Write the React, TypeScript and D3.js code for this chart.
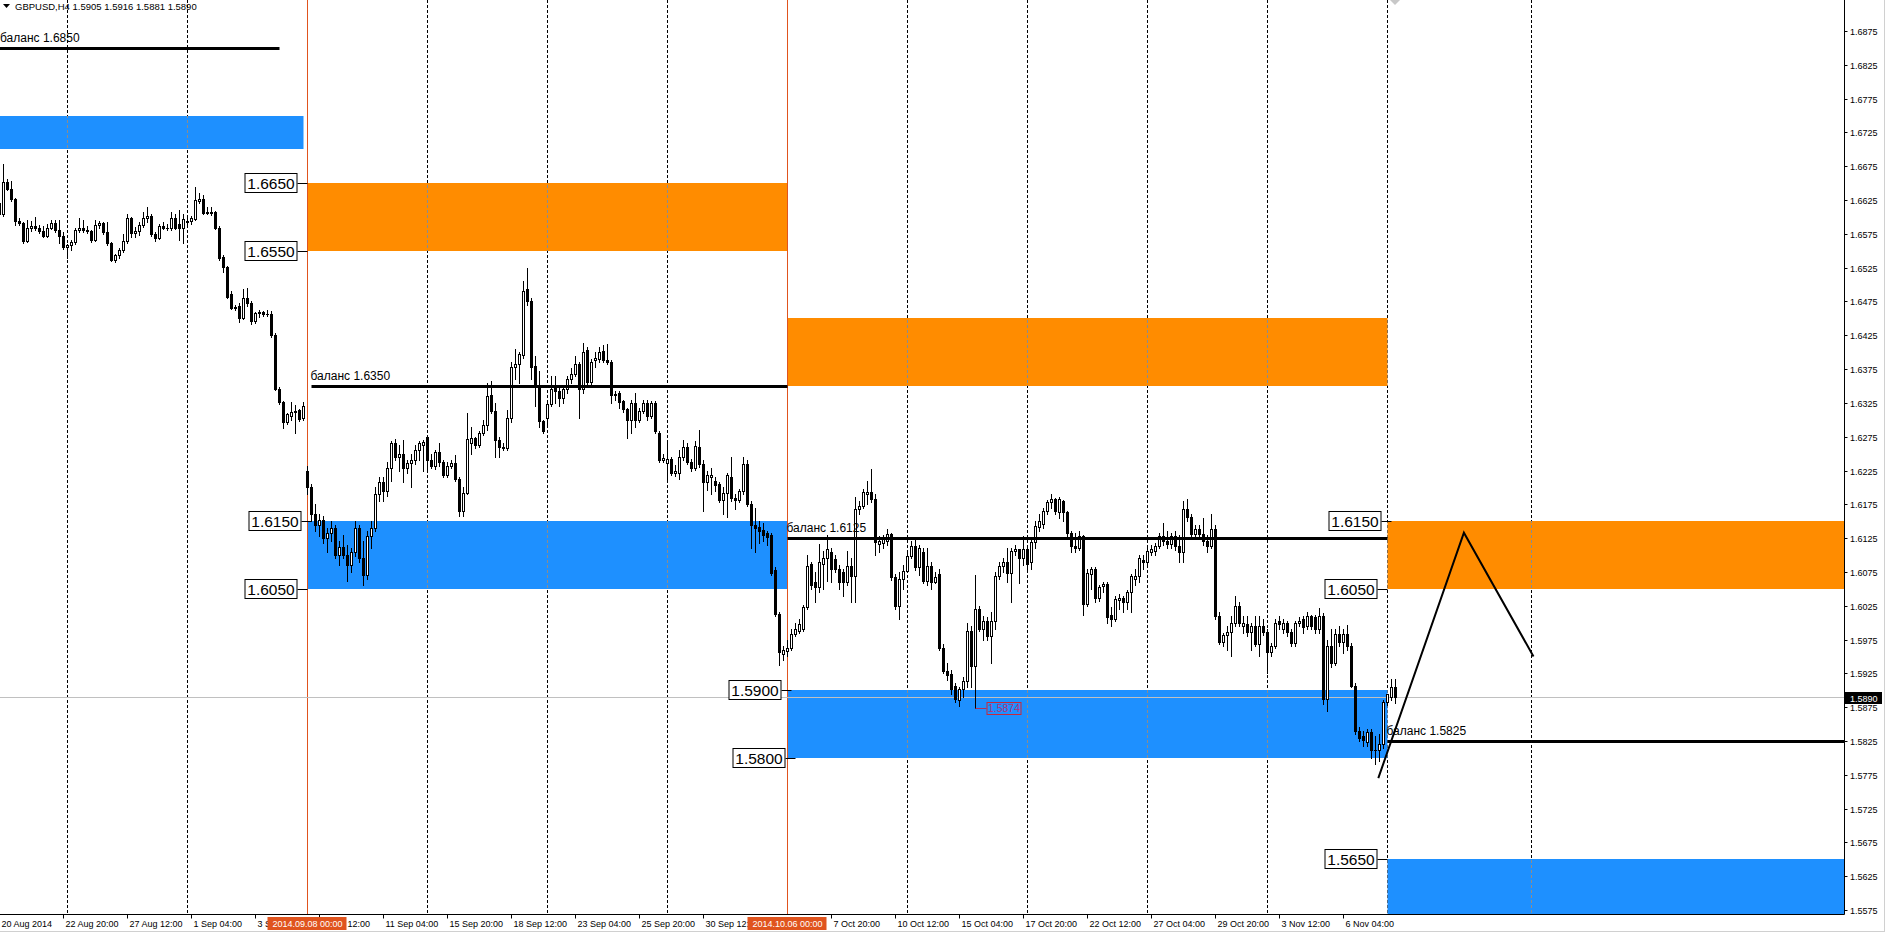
import React from 'react';
import * as d3 from 'd3';

// prices are stored ×10000 (e.g. 16604 = 1.6604); [open, high, low, close]
type Bar = [number, number, number, number];

// 20 Aug 04:00 – 22 Aug 20:00
const week34: Bar[] = [
  [16620,16630,16600,16604],[16604,16678,16601,16652],[16652,16656,16640,16642],[16642,16653,16624,16626],
  [16626,16628,16588,16594],[16594,16598,16588,16591],[16591,16593,16561,16565],[16565,16596,16563,16584],
  [16584,16594,16579,16587],[16587,16600,16580,16584],[16584,16588,16576,16579],[16579,16586,16570,16572],
  [16572,16590,16570,16584],[16584,16596,16582,16591],[16591,16596,16578,16581],[16581,16595,16562,16572],
  [16572,16578,16552,16555],
];
// 25 Aug – 29 Aug
const week35: Bar[] = [
  [16555,16560,16540,16558],[16558,16566,16551,16563],[16563,16584,16560,16581],[16581,16598,16578,16583],
  [16583,16595,16578,16580],[16580,16586,16576,16579],[16579,16581,16563,16566],[16566,16595,16564,16588],
  [16588,16594,16584,16591],[16591,16593,16575,16577],[16577,16592,16558,16561],[16561,16563,16535,16537],
  [16537,16545,16534,16543],[16543,16554,16540,16551],[16551,16575,16548,16564],[16564,16605,16562,16598],
  [16598,16600,16570,16576],[16576,16585,16570,16579],[16579,16592,16573,16588],[16588,16608,16585,16598],
  [16598,16614,16592,16601],[16601,16605,16572,16575],[16575,16578,16565,16569],[16569,16590,16567,16586],
  [16586,16592,16582,16584],[16584,16590,16580,16583],[16583,16608,16581,16598],[16598,16605,16582,16584],
  [16590,16610,16566,16584],[16584,16604,16561,16597],
];
// 1 Sep – 5 Sep
const week36: Bar[] = [
  [16593,16600,16588,16594],[16594,16601,16590,16598],[16597,16644,16595,16625],[16624,16635,16620,16626],
  [16626,16633,16604,16606],[16607,16614,16604,16606],[16606,16615,16603,16607],[16607,16609,16582,16584],
  [16584,16586,16537,16539],[16541,16543,16518,16526],[16526,16528,16480,16482],[16486,16490,16464,16466],
  [16467,16470,16462,16465],[16468,16472,16444,16451],[16451,16494,16449,16480],[16480,16495,16468,16472],
  [16472,16476,16442,16446],[16446,16460,16443,16458],[16458,16462,16452,16460],[16460,16461,16454,16457],
  [16457,16462,16454,16456],[16456,16461,16423,16426],[16426,16428,16344,16346],[16346,16348,16324,16326],
  [16326,16328,16288,16297],[16297,16310,16294,16308],[16305,16326,16300,16311],[16311,16322,16280,16313],
  [16314,16316,16298,16301],[16302,16326,16300,16321],
];
// 8 Sep – 12 Sep
const week37: Bar[] = [
  [16225,16232,16190,16200],[16200,16205,16150,16160],[16160,16175,16135,16145],[16145,16160,16128,16152],
  [16152,16158,16118,16125],[16125,16140,16105,16132],[16132,16150,16120,16140],[16140,16145,16095,16100],
  [16100,16120,16085,16112],[16112,16130,16095,16100],[16100,16115,16062,16085],[16085,16110,16075,16105],
  [16105,16150,16098,16140],[16140,16145,16090,16095],[16095,16120,16055,16070],[16070,16135,16065,16128],
  [16128,16150,16110,16140],[16140,16200,16135,16190],[16190,16215,16180,16208],[16208,16215,16180,16195],
  [16195,16238,16188,16228],[16228,16268,16210,16265],[16265,16272,16240,16245],[16245,16262,16225,16250],
  [16250,16270,16208,16228],[16228,16240,16222,16236],[16236,16250,16200,16240],[16240,16262,16235,16255],
  [16255,16268,16240,16265],[16262,16270,16225,16267],
];
// 15 Sep – 19 Sep
const week38: Bar[] = [
  [16275,16278,16225,16240],[16240,16250,16228,16232],[16232,16256,16227,16252],[16252,16265,16232,16238],
  [16238,16240,16215,16218],[16218,16238,16215,16232],[16232,16240,16228,16236],[16236,16248,16210,16213],
  [16213,16215,16157,16165],[16165,16200,16158,16192],[16192,16310,16190,16272],[16266,16290,16250,16273],
  [16273,16275,16258,16263],[16263,16283,16260,16280],[16280,16300,16278,16293],[16293,16355,16285,16335],
  [16337,16358,16310,16313],[16313,16325,16245,16270],[16270,16275,16245,16260],[16260,16265,16255,16258],
  [16258,16315,16255,16302],[16302,16385,16296,16378],[16378,16405,16360,16382],[16382,16400,16355,16397],
  [16396,16505,16392,16490],[16493,16524,16470,16476],[16476,16480,16360,16378],[16380,16395,16320,16350],
  [16350,16372,16290,16298],[16298,16300,16280,16283],
];
// 22 Sep – 26 Sep
const week39: Bar[] = [
  [16303,16330,16290,16323],[16323,16365,16320,16345],[16350,16365,16325,16342],[16342,16350,16320,16332],
  [16332,16350,16325,16345],[16345,16365,16340,16360],[16360,16376,16355,16368],[16368,16395,16365,16383],
  [16383,16385,16302,16345],[16345,16413,16340,16400],[16403,16408,16350,16356],[16356,16390,16350,16386],
  [16388,16400,16378,16391],[16390,16408,16385,16400],[16402,16410,16385,16388],[16388,16412,16383,16386],
  [16386,16388,16325,16336],[16338,16342,16330,16336],[16339,16342,16318,16327],[16328,16330,16312,16316],
  [16316,16318,16273,16300],[16300,16330,16280,16325],[16325,16340,16290,16300],[16300,16318,16296,16313],
  [16313,16330,16310,16325],[16325,16330,16300,16306],[16306,16328,16303,16325],[16325,16328,16280,16283],
  [16281,16283,16237,16240],[16240,16250,16238,16243],
];
// 29 Sep – 3 Oct
const week40: Bar[] = [
  [16236,16265,16212,16242],[16242,16245,16218,16222],[16222,16233,16217,16225],[16222,16255,16212,16245],
  [16245,16270,16240,16260],[16260,16265,16235,16238],[16238,16242,16225,16228],[16228,16268,16226,16261],
  [16260,16285,16230,16235],[16235,16240,16165,16208],[16208,16225,16196,16218],[16215,16228,16190,16218],
  [16210,16215,16195,16203],[16205,16208,16178,16181],[16181,16200,16160,16192],[16192,16222,16156,16218],
  [16215,16245,16180,16184],[16185,16190,16168,16181],[16181,16198,16178,16194],[16194,16245,16190,16234],
  [16234,16240,16172,16176],[16176,16180,16110,16144],[16144,16170,16105,16140],[16142,16150,16118,16135],
  [16137,16148,16120,16130],[16132,16135,16115,16127],[16130,16132,16070,16073],[16078,16082,16010,16013],
  [16013,16015,15938,15957],[15954,15965,15945,15959],
];
// 6 Oct – 10 Oct
const week41: Bar[] = [
  [15958,15975,15950,15962],[15962,15990,15960,15983],[15983,16000,15980,15990],[15988,16005,15985,15998],
  [15990,16026,15988,16023],[16023,16100,16020,16084],[16086,16090,16050,16055],[16060,16075,16030,16052],
  [16052,16117,16045,16089],[16087,16106,16050,16096],[16096,16130,16062,16109],[16105,16110,16060,16080],
  [16094,16100,16075,16080],[16080,16085,16050,16060],[16075,16080,16040,16060],[16060,16106,16055,16084],
  [16084,16095,16030,16069],[16069,16186,16030,16168],[16168,16180,16160,16173],[16173,16198,16170,16193],
  [16190,16210,16175,16193],[16193,16227,16178,16183],[16183,16190,16100,16119],[16116,16128,16105,16121],
  [16118,16130,16110,16124],[16121,16138,16115,16131],[16131,16133,16063,16067],[16067,16072,16020,16025],
  [16025,16075,16005,16064],[16064,16085,16050,16077],
];
// 13 Oct – 17 Oct
const week42: Bar[] = [
  [16077,16105,16075,16099],[16099,16120,16095,16113],[16113,16125,16078,16082],[16082,16115,16070,16111],
  [16105,16110,16058,16062],[16062,16110,16055,16084],[16084,16090,16050,16060],[16060,16075,16058,16067],
  [16072,16080,15960,15963],[15963,15968,15925,15929],[15929,15940,15915,15922],[15924,15930,15895,15902],
  [15907,15910,15883,15887],[15885,15905,15876,15902],[15902,15920,15890,15914],[15914,16000,15905,15988],
  [15988,15995,15905,15936],[15936,16070,15874,16020],[16020,16025,15988,15990],[15990,16010,15975,16002],
  [16002,16008,15975,15980],[15980,16015,15940,16002],[16002,16075,15990,16069],[16069,16090,16065,16084],
  [16084,16095,16075,16089],[16089,16110,16060,16074],[16074,16110,16030,16106],[16106,16115,16100,16109],
  [16109,16108,16058,16096],[16096,16128,16085,16109],
];
// 20 Oct – 24 Oct
const week43: Bar[] = [
  [16109,16115,16075,16087],[16089,16125,16080,16119],[16119,16150,16110,16143],[16141,16160,16135,16151],
  [16146,16170,16140,16165],[16165,16182,16160,16178],[16178,16190,16170,16183],[16183,16185,16160,16165],
  [16163,16186,16155,16183],[16180,16182,16150,16163],[16163,16165,16128,16133],[16133,16136,16105,16114],
  [16114,16132,16105,16111],[16111,16135,16108,16128],[16128,16130,16012,16027],[16027,16080,16025,16074],
  [16072,16083,16050,16079],[16079,16082,16030,16037],[16037,16056,16032,16052],[16054,16060,16045,16057],
  [16057,16060,16000,16008],[16012,16023,15995,16005],[16005,16040,16002,16035],[16033,16042,16020,16037],
  [16037,16040,16015,16030],[16030,16048,16020,16045],[16045,16072,16015,16069],[16065,16080,16055,16069],
  [16069,16100,16060,16095],[16092,16100,16080,16089],
];
// 27 Oct – 31 Oct
const week44: Bar[] = [
  [16089,16112,16085,16106],[16104,16115,16100,16109],[16106,16118,16100,16114],[16114,16132,16110,16128],
  [16128,16148,16115,16121],[16121,16136,16110,16116],[16116,16132,16110,16128],[16128,16135,16108,16114],
  [16114,16130,16090,16104],[16104,16180,16090,16168],[16168,16183,16150,16156],[16156,16160,16125,16131],
  [16131,16145,16125,16138],[16138,16145,16125,16131],[16131,16155,16115,16121],[16121,16130,16105,16114],
  [16114,16160,16110,16138],[16138,16145,16005,16010],[16010,16015,15968,15971],[15971,15985,15965,15981],
  [15981,15995,15960,15986],[15986,16010,15950,16000],[16000,16040,15995,16025],[16025,16030,15995,16000],
  [15995,16010,15985,16000],[15998,16010,15980,15986],[15986,16000,15960,15995],[15995,16010,15965,15968],
  [15968,16010,15950,15995],[15995,16005,15982,15986],
];
// 3 Nov – 7 Nov
const week45: Bar[] = [
  [15986,15990,15925,15956],[15956,15970,15950,15966],[15966,16005,15962,16000],[16003,16010,15990,15998],
  [15990,16005,15985,16000],[16000,16002,15980,15986],[15986,15990,15965,15970],[15970,16003,15965,16000],
  [16000,16008,15995,16003],[16005,16010,15985,15993],[15995,16015,15990,16010],[16010,16012,15990,15995],
  [16008,16012,15985,15990],[15990,16022,15985,16010],[16010,16014,15880,15887],[15887,15975,15869,15966],
  [15966,15990,15935,15941],[15941,15990,15938,15983],[15983,15995,15965,15971],[15971,15990,15955,15983],
  [15983,15996,15960,15966],[15966,15970,15905,15907],[15907,15910,15835,15840],[15840,15845,15825,15830],
  [15832,15840,15818,15826],[15824,15842,15818,15838],[15838,15842,15800,15812],[15812,15832,15791,15811],
  [15811,15836,15795,15820],[15820,15885,15815,15882],
];
// 10 Nov (current)
const week46: Bar[] = [
  [15882,15895,15878,15894],[15890,15917,15885,15905],[15905,15916,15881,15890],
];

const allBars: Bar[] = [
  ...week34, ...week35, ...week36, ...week37, ...week38, ...week39, ...week40,
  ...week41, ...week42, ...week43, ...week44, ...week45, ...week46,
];

const priceTicks = d3.range(15575, 16876, 50).map((v) => v / 10000);

// [bar, visible label text]; labels partly covered by the period tags keep only their visible part
const timeTicks: [number, string][] = [
  [0, '20 Aug 2014'], [16, '22 Aug 20:00'], [32, '27 Aug 12:00'], [48, '1 Sep 04:00'],
  [64, '3 S'], [80, '12:00'], [96, '11 Sep 04:00'], [112, '15 Sep 20:00'],
  [128, '18 Sep 12:00'], [144, '23 Sep 04:00'], [160, '25 Sep 20:00'], [176, '30 Sep 12:'],
  [208, '7 Oct 20:00'], [224, '10 Oct 12:00'], [240, '15 Oct 04:00'],
  [256, '17 Oct 20:00'], [272, '22 Oct 12:00'], [288, '27 Oct 04:00'], [304, '29 Oct 20:00'],
  [320, '3 Nov 12:00'], [336, '6 Nov 04:00'],
];
// the "8 Sep 12:00" label shows only its tail beside the tag
const tailLabelShift: Record<number, number> = { 80: 26 };

const weekGrid = [17, 47, 77, 107, 137, 167, 197, 227, 257, 287, 317, 347, 383];

const periodMarks: [number, string][] = [[77, '2014.09.08 00:00'], [197, '2014.10.06 00:00']];

// zones: [fromBar, toBar, low, high, type]
const zones: [number, number, number, number, 'buy' | 'sell'][] = [
  [-5, 76, 1.6700, 1.6750, 'buy'],
  [77, 197, 1.6550, 1.6650, 'sell'],
  [77, 197, 1.6050, 1.6150, 'buy'],
  [197, 347, 1.6350, 1.6450, 'sell'],
  [197, 347, 1.5800, 1.5900, 'buy'],
  [347, 600, 1.6050, 1.6150, 'sell'],
  [347, 600, 1.5500, 1.5650, 'buy'],
];

// balance levels: [fromBar, toBar, price]
const balances: [number, number, number][] = [
  [-5, 70, 1.6850],
  [78, 197, 1.6350],
  [197, 347, 1.6125],
  [347, 600, 1.5825],
];

// price tags next to zones: [anchorBar, price]
const zoneTags: [number, number][] = [
  [77, 1.6650], [77, 1.6550], [78, 1.6150], [77, 1.6050],
  [198, 1.5900], [199, 1.5800],
  [348, 1.6150], [347, 1.6050], [347, 1.5650],
];

// projected path: [bar, price]
const projection: [number, number][] = [[344.7, 1.5770], [366.1, 1.6133], [383.5, 1.5950]];

const lowMark: [number, number] = [244, 1.5874];
const header = { symbol: 'GBPUSD,H4', o: '1.5905', h: '1.5916', l: '1.5881', c: '1.5890' };
const lastPrice = 1.5890;

const W = 1886;
const H = 933;
const RIGHT = 1844.5;
const BOTTOM = 914.5;
const FONT = "'Liberation Sans', Arial, sans-serif";
const BLUE = '#1E90FF';
const ORANGE = '#FF8C00';
const VLINE = '#E0541E';

export default function App() {
  const x = d3.scaleLinear().domain([0, 1]).range([-0.5, 3.5]);
  const y = d3.scaleLinear().domain([1.5575, 1.6875]).range([910, 31]);
  const py = (p: number) => Math.round(y(p));
  const clampX = (v: number) => Math.max(0, Math.min(RIGHT, v));

  const bars = allBars.map(([o, h, l, c], i) => ({ i, o: o / 10000, h: h / 10000, l: l / 10000, c: c / 10000 }));

  const zoneRects = zones.map(([f, t, lo, hi, k]) => {
    const x1 = clampX(x(f));
    const x2 = clampX(x(t));
    const y1 = Math.max(0, py(hi));
    const y2 = Math.min(BOTTOM, py(lo));
    return { x1, x2, y1, y2, k };
  });

  const projLine = d3.line<[number, number]>().x((d) => x(d[0])).y((d) => y(d[1]));

  return (
    <svg width={W} height={H} style={{ position: 'absolute', left: 0, top: 0, background: '#fff' }}
      fontFamily={FONT}>
      <defs>
        <clipPath id="plot"><rect x={0} y={0} width={RIGHT} height={BOTTOM} /></clipPath>
        {zoneRects.map((z, k) => (
          <clipPath id={`zc${k}`} key={k}><rect x={z.x1} y={z.y1} width={z.x2 - z.x1} height={z.y2 - z.y1} /></clipPath>
        ))}
      </defs>
      <rect x={0} y={0} width={W} height={H} fill="#fff" />
      <g clipPath="url(#plot)">
        {weekGrid.map((b) => (
          <line key={b} x1={x(b)} x2={x(b)} y1={0} y2={BOTTOM} stroke="#000" strokeDasharray="3,2" />
        ))}
        {zoneRects.map((z, k) => (
          <rect key={k} x={z.x1} y={z.y1} width={z.x2 - z.x1} height={z.y2 - z.y1}
            fill={z.k === 'buy' ? BLUE : ORANGE} />
        ))}
        {zoneRects.map((z, k) => (
          <g key={k} clipPath={`url(#zc${k})`}>
            {weekGrid.map((b) => (
              <line key={b} x1={x(b)} x2={x(b)} y1={0} y2={BOTTOM} stroke="#8c8c8c" strokeDasharray="3,2" />
            ))}
          </g>
        ))}
        {periodMarks.map(([b]) => (
          <line key={b} x1={x(b)} x2={x(b)} y1={0} y2={BOTTOM} stroke={VLINE} strokeWidth={1} />
        ))}
        <line x1={0} x2={RIGHT} y1={py(lastPrice) + 0.5} y2={py(lastPrice) + 0.5} stroke="#c0c0c0" />
        {bars.map((b) => {
          const cx = x(b.i);
          const yh = py(b.h), yl = py(b.l), yo = py(b.o), yc = py(b.c);
          const top = Math.min(yo, yc), bot = Math.max(yo, yc);
          const bull = b.c >= b.o;
          return (
            <g key={b.i}>
              <line x1={cx} x2={cx} y1={yh} y2={yl + 1} stroke="#000" />
              {bot - top < 1 ? (
                <rect x={cx - 1.5} y={top} width={3} height={1} fill="#000" />
              ) : bull ? (
                <rect x={cx - 1} y={top + 0.5} width={2} height={bot - top} fill="#fff" stroke="#000" />
              ) : (
                <rect x={cx - 1.5} y={top} width={3} height={bot - top + 1} fill="#000" />
              )}
            </g>
          );
        })}
        <line x1={x(lowMark[0])} x2={x(lowMark[0]) + 11} y1={py(lowMark[1]) + 0.5} y2={py(lowMark[1]) + 0.5}
          stroke="#B0305A" />
        <rect x={x(lowMark[0]) + 11.5} y={py(lowMark[1]) - 5.5} width={34} height={12} fill="none" stroke="#C8283C" />
        <text x={x(lowMark[0]) + 28.5} y={py(lowMark[1]) + 4} fontSize={10.5} textAnchor="middle" fill="#B0307A">
          {lowMark[1].toFixed(4)}
        </text>
        {balances.map(([f, t, p]) => (
          <g key={p}>
            <line x1={clampX(x(f))} x2={clampX(x(t))} y1={py(p) + 0.5} y2={py(p) + 0.5} stroke="#000" strokeWidth={3} />
            <text x={Math.max(0, x(f) - 1)} y={py(p) - 6} fontSize={12} fill="#000">{`баланс ${p.toFixed(4)}`}</text>
          </g>
        ))}
        <path d={projLine(projection) || ''} fill="none" stroke="#000" strokeWidth={2} />
        {zoneTags.map(([b, p], k) => {
          const ax = x(b);
          const yy = py(p);
          const right = ax - 10;
          return (
            <g key={k}>
              <line x1={right} x2={ax} y1={yy + 0.5} y2={yy + 0.5} stroke="#000" />
              <rect x={right - 52.5} y={yy - 9.5} width={52} height={19} fill="#fff" stroke="#000" />
              <text x={right - 26.5} y={yy + 5.5} fontSize={15.5} textAnchor="middle" fill="#000">{p.toFixed(4)}</text>
            </g>
          );
        })}
        <path d="M1390,0 L1400,0 L1395,5 Z" fill="#c8c8c8" />
      </g>
      <path d="M3,4 L10,4 L6.5,8 Z" fill="#000" />
      <text x={15} y={10} fontSize={9.5} fill="#000">
        {`${header.symbol}  ${header.o} ${header.h} ${header.l} ${header.c}`}
      </text>
      <line x1={RIGHT} x2={RIGHT} y1={0} y2={BOTTOM} stroke="#000" />
      <line x1={0} x2={RIGHT} y1={BOTTOM} y2={BOTTOM} stroke="#000" />
      {priceTicks.map((p) => (
        <g key={p}>
          <line x1={RIGHT} x2={RIGHT + 3} y1={py(p) + 0.5} y2={py(p) + 0.5} stroke="#000" />
          <text x={1850} y={py(p) + 3.5} fontSize={9} fill="#000">{p.toFixed(4)}</text>
        </g>
      ))}
      <rect x={RIGHT + 0.5} y={py(lastPrice) - 5} width={37} height={12} fill="#000" />
      <text x={1850} y={py(lastPrice) + 4.5} fontSize={9} fill="#fff">{lastPrice.toFixed(4)}</text>
      {timeTicks.map(([b, s]) => (
        <g key={b}>
          <line x1={x(b)} x2={x(b)} y1={BOTTOM} y2={BOTTOM + 4} stroke="#000" />
          <text x={x(b) + 2 + (tailLabelShift[b] || 0)} y={927} fontSize={9} fill="#000">{s}</text>
        </g>
      ))}
      {periodMarks.map(([b, s]) => (
        <g key={b}>
          <rect x={x(b) - 40} y={917} width={79} height={13} fill={VLINE} />
          <text x={x(b)} y={927} fontSize={9} textAnchor="middle" fill="#fff">{s}</text>
        </g>
      ))}
      <line x1={1884.5} x2={1884.5} y1={0} y2={931} stroke="#d0d0d0" />
      <line x1={0} x2={1885} y1={931.5} y2={931.5} stroke="#d0d0d0" />
    </svg>
  );
}
